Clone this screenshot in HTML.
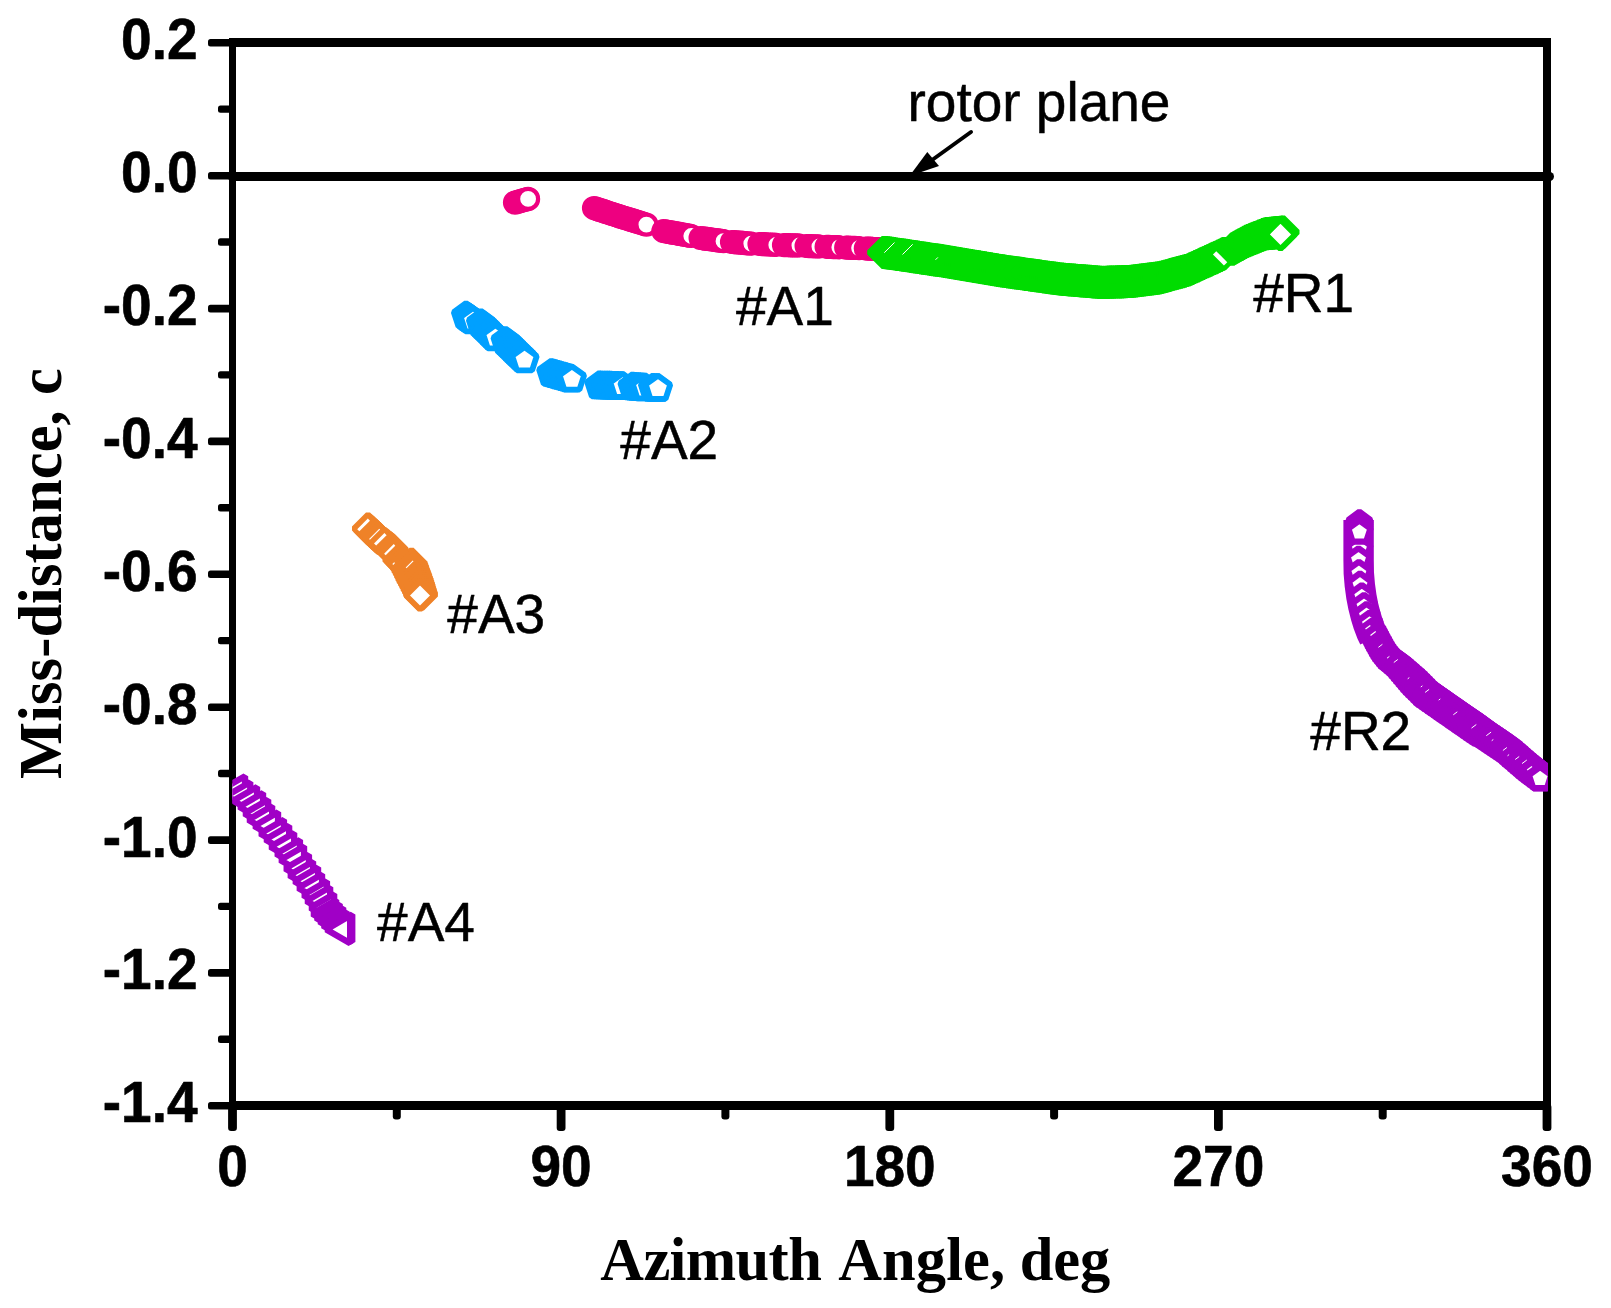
<!DOCTYPE html>
<html lang="en"><head><meta charset="utf-8"><title>Miss-distance vs Azimuth Angle</title>
<style>html,body{margin:0;padding:0;background:#fff;overflow:hidden;}svg{display:block;}.tk{font-family:"Liberation Sans",sans-serif;font-weight:bold;font-size:55px;fill:#000;stroke:#000;stroke-width:0.6px;stroke-linejoin:round;}.an{font-family:"Liberation Sans",sans-serif;font-size:55px;fill:#000;stroke:#000;stroke-width:0.5px;stroke-linejoin:round;}.ax{font-family:"Liberation Serif",serif;font-weight:bold;font-size:60.5px;fill:#000;}</style></head><body>
<svg width="1611" height="1308" viewBox="0 0 1611 1308">
<rect x="0" y="0" width="1611" height="1308" fill="#fff"/>
<g id="frame" fill="#000" shape-rendering="crispEdges">
<rect x="229" y="38" width="7" height="1072"/>
<rect x="1543" y="38" width="8" height="1072"/>
<rect x="231" y="38" width="1320" height="9"/>
<rect x="229" y="1101" width="1322" height="9"/>
</g>
<g id="ticks" fill="#000">
<rect x="208" y="39.0" width="24" height="7.6" rx="2.5"/>
<rect x="218" y="105.4" width="14" height="7.4" rx="2.5"/>
<rect x="208" y="171.9" width="24" height="7.6" rx="2.5"/>
<rect x="218" y="238.3" width="14" height="7.4" rx="2.5"/>
<rect x="208" y="304.8" width="24" height="7.6" rx="2.5"/>
<rect x="218" y="371.2" width="14" height="7.4" rx="2.5"/>
<rect x="208" y="437.6" width="24" height="7.6" rx="2.5"/>
<rect x="218" y="504.1" width="14" height="7.4" rx="2.5"/>
<rect x="208" y="570.5" width="24" height="7.6" rx="2.5"/>
<rect x="218" y="636.9" width="14" height="7.4" rx="2.5"/>
<rect x="208" y="703.4" width="24" height="7.6" rx="2.5"/>
<rect x="218" y="769.8" width="14" height="7.4" rx="2.5"/>
<rect x="208" y="836.3" width="24" height="7.6" rx="2.5"/>
<rect x="218" y="902.7" width="14" height="7.4" rx="2.5"/>
<rect x="208" y="969.1" width="24" height="7.6" rx="2.5"/>
<rect x="218" y="1035.6" width="14" height="7.4" rx="2.5"/>
<rect x="208" y="1102.0" width="24" height="7.6" rx="2.5"/>
<rect x="228.1" y="1104" width="8.8" height="27" rx="3"/>
<rect x="392.8" y="1104" width="8" height="15.5" rx="3"/>
<rect x="556.7" y="1104" width="8.8" height="27" rx="3"/>
<rect x="721.4" y="1104" width="8" height="15.5" rx="3"/>
<rect x="885.4" y="1104" width="8.8" height="27" rx="3"/>
<rect x="1050.1" y="1104" width="8" height="15.5" rx="3"/>
<rect x="1214.0" y="1104" width="8.8" height="27" rx="3"/>
<rect x="1378.7" y="1104" width="8" height="15.5" rx="3"/>
<rect x="1542.6" y="1104" width="8.8" height="27" rx="3"/>
</g>
<g id="ylabels" class="tk" text-anchor="end">
<text transform="translate(197.5 59.2) scale(1 1.04)">0.2</text>
<text transform="translate(197.5 192.1) scale(1 1.04)">0.0</text>
<text transform="translate(197.5 324.9) scale(1 1.04)">-0.2</text>
<text transform="translate(197.5 457.8) scale(1 1.04)">-0.4</text>
<text transform="translate(197.5 590.7) scale(1 1.04)">-0.6</text>
<text transform="translate(197.5 723.6) scale(1 1.04)">-0.8</text>
<text transform="translate(197.5 856.5) scale(1 1.04)">-1.0</text>
<text transform="translate(197.5 989.3) scale(1 1.04)">-1.2</text>
<text transform="translate(197.5 1122.2) scale(1 1.04)">-1.4</text>
</g>
<g id="xlabels" class="tk" text-anchor="middle">
<text transform="translate(232.5 1185.7) scale(1 1.04)">0</text>
<text transform="translate(561.1 1185.7) scale(1 1.04)">90</text>
<text transform="translate(889.8 1185.7) scale(1 1.04)">180</text>
<text transform="translate(1218.4 1185.7) scale(1 1.04)">270</text>
<text transform="translate(1547.0 1185.7) scale(1 1.04)">360</text>
</g>
<g id="titles" class="ax">
<text x="600.3" y="1280.2" textLength="221.5" lengthAdjust="spacing">Azimuth</text>
<text x="838.2" y="1280.2" textLength="167" lengthAdjust="spacing">Angle,</text>
<text x="1019.8" y="1280.2" textLength="90.4" lengthAdjust="spacing">deg</text>
<text transform="translate(61 779) rotate(-90)" textLength="410.8" lengthAdjust="spacing">Miss-distance, c</text>
</g>
<line x1="232" y1="176.5" x2="1549.5" y2="176.5" stroke="#000" stroke-width="9" stroke-linecap="round"/>
<g id="annot" class="an">
<text x="907.5" y="120.7">rotor plane</text>
<text x="736" y="324.8">#A1</text>
<text x="620.3" y="458.9">#A2</text>
<text x="447.3" y="632.7">#A3</text>
<text x="377.1" y="940.8">#A4</text>
<text x="1253.2" y="311.7">#R1</text>
<text x="1310.3" y="749.8">#R2</text>
</g>
<g id="arrow" fill="#000" stroke="#000">
<line x1="971" y1="132" x2="930" y2="161.5" stroke-width="4" stroke-linecap="round"/>
<polygon points="909.5,176 927.3,152 939,166" stroke="none"/>
</g>
<defs>
<circle id="mc" r="10" fill="#fff" stroke="#ee0080" stroke-width="4.2"/>
<polygon id="md" points="0.00,-14.60 14.60,0.00 0.00,14.60 -14.60,0.00" fill="#fff" stroke="#00dc00" stroke-width="5.7" stroke-linejoin="bevel"/>
<polygon id="mo" points="0.00,-14.00 14.00,0.00 0.00,14.00 -14.00,0.00" fill="#fff" stroke="#ef8228" stroke-width="5.7" stroke-linejoin="bevel"/>
<polygon id="mb" points="0.00,-12.90 12.27,-3.99 7.58,10.44 -7.58,10.44 -12.27,-3.99" fill="#fff" stroke="#00a0ff" stroke-width="5.8" stroke-linejoin="bevel"/>
<polygon id="mp" points="0.00,-11.65 11.08,-3.60 6.85,9.43 -6.85,9.43 -11.08,-3.60" fill="#fff" stroke="#a000c6" stroke-width="6.2" stroke-linejoin="bevel"/>
<polygon id="mds" points="0.00,-14.60 14.60,0.00 0.00,14.60 -14.60,0.00" fill="#00dc00" stroke="#00dc00" stroke-width="5.7" stroke-linejoin="bevel"/>
<polygon id="mos" points="0.00,-14.00 14.00,0.00 0.00,14.00 -14.00,0.00" fill="#ef8228" stroke="#ef8228" stroke-width="5.7" stroke-linejoin="bevel"/>
<polygon id="mps" points="0.00,-12.00 11.41,-3.71 7.05,9.71 -7.05,9.71 -11.41,-3.71" fill="#a000c6" stroke="#a000c6" stroke-width="6.8" stroke-linejoin="bevel"/>
<polygon id="mt" points="-15.90,0.00 7.95,-13.77 7.95,13.77" fill="#fff" stroke="#a000c6" stroke-width="6.3" stroke-linejoin="bevel"/>
<clipPath id="clip"><rect x="232.3" y="42.5" width="1315.7" height="1063"/></clipPath>
</defs>
<g id="data" clip-path="url(#clip)">
<g id="sA1"><use href="#mc" x="515.0" y="202.6"/><use href="#mc" x="517.1" y="202.0"/><use href="#mc" x="519.2" y="201.4"/><use href="#mc" x="521.4" y="200.8"/><use href="#mc" x="523.5" y="200.2"/><use href="#mc" x="525.6" y="199.6"/><use href="#mc" x="527.7" y="199.0"/><use href="#mc" x="528.1" y="198.9"/><use href="#mc" x="594.0" y="208.0"/><use href="#mc" x="596.1" y="208.7"/><use href="#mc" x="598.2" y="209.4"/><use href="#mc" x="600.3" y="210.1"/><use href="#mc" x="602.4" y="210.7"/><use href="#mc" x="604.5" y="211.4"/><use href="#mc" x="606.5" y="212.1"/><use href="#mc" x="608.6" y="212.8"/><use href="#mc" x="610.7" y="213.5"/><use href="#mc" x="612.8" y="214.2"/><use href="#mc" x="614.9" y="214.8"/><use href="#mc" x="617.0" y="215.5"/><use href="#mc" x="619.1" y="216.2"/><use href="#mc" x="621.2" y="216.9"/><use href="#mc" x="623.3" y="217.5"/><use href="#mc" x="625.4" y="218.2"/><use href="#mc" x="627.5" y="218.8"/><use href="#mc" x="629.6" y="219.4"/><use href="#mc" x="631.7" y="220.1"/><use href="#mc" x="633.8" y="220.7"/><use href="#mc" x="635.9" y="221.4"/><use href="#mc" x="638.0" y="222.0"/><use href="#mc" x="640.1" y="222.7"/><use href="#mc" x="642.2" y="223.3"/><use href="#mc" x="644.3" y="224.0"/><use href="#mc" x="646.4" y="224.6"/><use href="#mc" x="663.4" y="231.0"/><use href="#mc" x="665.6" y="231.4"/><use href="#mc" x="667.7" y="231.8"/><use href="#mc" x="669.9" y="232.2"/><use href="#mc" x="672.1" y="232.6"/><use href="#mc" x="674.2" y="232.9"/><use href="#mc" x="676.4" y="233.3"/><use href="#mc" x="678.6" y="233.7"/><use href="#mc" x="680.7" y="234.1"/><use href="#mc" x="682.9" y="234.5"/><use href="#mc" x="685.1" y="234.9"/><use href="#mc" x="687.2" y="235.3"/><use href="#mc" x="689.4" y="235.7"/><use href="#mc" x="691.3" y="236.0"/><use href="#mc" x="700.6" y="238.0"/><use href="#mc" x="702.8" y="238.3"/><use href="#mc" x="705.0" y="238.6"/><use href="#mc" x="707.1" y="238.9"/><use href="#mc" x="709.3" y="239.2"/><use href="#mc" x="711.5" y="239.5"/><use href="#mc" x="713.7" y="239.8"/><use href="#mc" x="715.9" y="240.1"/><use href="#mc" x="718.0" y="240.4"/><use href="#mc" x="720.2" y="240.7"/><use href="#mc" x="722.4" y="241.0"/><use href="#mc" x="723.5" y="241.2"/><use href="#mc" x="732.0" y="242.0"/><use href="#mc" x="734.2" y="242.2"/><use href="#mc" x="736.4" y="242.4"/><use href="#mc" x="738.6" y="242.5"/><use href="#mc" x="740.8" y="242.7"/><use href="#mc" x="743.0" y="242.9"/><use href="#mc" x="745.2" y="243.1"/><use href="#mc" x="747.3" y="243.3"/><use href="#mc" x="749.5" y="243.5"/><use href="#mc" x="751.3" y="243.6"/><use href="#mc" x="759.5" y="244.0"/><use href="#mc" x="761.7" y="244.1"/><use href="#mc" x="763.9" y="244.2"/><use href="#mc" x="766.1" y="244.4"/><use href="#mc" x="768.3" y="244.5"/><use href="#mc" x="770.5" y="244.6"/><use href="#mc" x="772.7" y="244.7"/><use href="#mc" x="774.9" y="244.8"/><use href="#mc" x="776.3" y="244.9"/><use href="#mc" x="784.0" y="245.1"/><use href="#mc" x="786.2" y="245.2"/><use href="#mc" x="788.4" y="245.2"/><use href="#mc" x="790.6" y="245.3"/><use href="#mc" x="792.8" y="245.3"/><use href="#mc" x="795.0" y="245.4"/><use href="#mc" x="797.2" y="245.4"/><use href="#mc" x="799.4" y="245.5"/><use href="#mc" x="806.6" y="246.0"/><use href="#mc" x="808.8" y="246.1"/><use href="#mc" x="811.0" y="246.2"/><use href="#mc" x="813.2" y="246.3"/><use href="#mc" x="815.4" y="246.3"/><use href="#mc" x="817.6" y="246.4"/><use href="#mc" x="819.4" y="246.5"/><use href="#mc" x="826.6" y="246.8"/><use href="#mc" x="828.8" y="246.9"/><use href="#mc" x="831.0" y="247.0"/><use href="#mc" x="833.2" y="247.1"/><use href="#mc" x="835.4" y="247.1"/><use href="#mc" x="837.6" y="247.2"/><use href="#mc" x="839.3" y="247.3"/><use href="#mc" x="846.2" y="247.6"/><use href="#mc" x="848.4" y="247.7"/><use href="#mc" x="850.6" y="247.8"/><use href="#mc" x="852.8" y="247.9"/><use href="#mc" x="855.0" y="247.9"/><use href="#mc" x="857.2" y="248.0"/><use href="#mc" x="859.1" y="248.1"/><use href="#mc" x="865.8" y="248.5"/><use href="#mc" x="868.0" y="248.6"/><use href="#mc" x="870.2" y="248.7"/><use href="#mc" x="872.4" y="248.9"/><use href="#mc" x="874.6" y="249.0"/><use href="#mc" x="876.8" y="249.1"/><use href="#mc" x="879.0" y="249.2"/><use href="#mc" x="881.2" y="249.3"/><use href="#mc" x="883.4" y="249.5"/><use href="#mc" x="884.0" y="249.5"/></g>
<g id="sR1"><use href="#mds" x="883.8" y="252.5"/><use href="#mds" x="885.8" y="252.7"/><use href="#mds" x="887.8" y="252.8"/><use href="#mds" x="889.8" y="253.1"/><use href="#mds" x="891.7" y="253.4"/><use href="#mds" x="893.7" y="253.7"/><use href="#mds" x="895.7" y="254.0"/><use href="#mds" x="897.7" y="254.3"/><use href="#mds" x="899.7" y="254.5"/><use href="#mds" x="901.6" y="254.8"/><use href="#mds" x="903.6" y="255.1"/><use href="#mds" x="905.6" y="255.4"/><use href="#mds" x="907.6" y="255.7"/><use href="#mds" x="909.6" y="256.0"/><use href="#mds" x="911.5" y="256.3"/><use href="#mds" x="913.5" y="256.6"/><use href="#mds" x="915.5" y="256.9"/><use href="#mds" x="917.5" y="257.2"/><use href="#mds" x="919.4" y="257.5"/><use href="#mds" x="921.4" y="257.8"/><use href="#mds" x="923.4" y="258.1"/><use href="#mds" x="925.4" y="258.4"/><use href="#mds" x="927.4" y="258.7"/><use href="#mds" x="929.3" y="259.0"/><use href="#mds" x="931.3" y="259.3"/><use href="#mds" x="933.3" y="259.6"/><use href="#mds" x="935.3" y="259.8"/><use href="#mds" x="937.2" y="260.1"/><use href="#mds" x="939.2" y="260.4"/><use href="#mds" x="941.2" y="260.7"/><use href="#mds" x="943.2" y="261.0"/><use href="#mds" x="945.2" y="261.3"/><use href="#mds" x="947.1" y="261.6"/><use href="#mds" x="949.1" y="262.0"/><use href="#mds" x="951.1" y="262.3"/><use href="#mds" x="953.1" y="262.6"/><use href="#mds" x="955.0" y="263.0"/><use href="#mds" x="957.0" y="263.3"/><use href="#mds" x="959.0" y="263.6"/><use href="#mds" x="960.9" y="264.0"/><use href="#mds" x="962.9" y="264.3"/><use href="#mds" x="964.9" y="264.6"/><use href="#mds" x="966.9" y="265.0"/><use href="#mds" x="968.8" y="265.3"/><use href="#mds" x="970.8" y="265.6"/><use href="#mds" x="972.8" y="266.0"/><use href="#mds" x="974.7" y="266.3"/><use href="#mds" x="976.7" y="266.6"/><use href="#mds" x="978.7" y="266.9"/><use href="#mds" x="980.7" y="267.3"/><use href="#mds" x="982.6" y="267.6"/><use href="#mds" x="984.6" y="267.9"/><use href="#mds" x="986.6" y="268.3"/><use href="#mds" x="988.6" y="268.6"/><use href="#mds" x="990.5" y="268.9"/><use href="#mds" x="992.5" y="269.3"/><use href="#mds" x="994.5" y="269.6"/><use href="#mds" x="996.4" y="269.9"/><use href="#mds" x="998.4" y="270.3"/><use href="#mds" x="1000.4" y="270.6"/><use href="#mds" x="1002.4" y="270.9"/><use href="#mds" x="1004.3" y="271.2"/><use href="#mds" x="1006.3" y="271.5"/><use href="#mds" x="1008.3" y="271.8"/><use href="#mds" x="1010.3" y="272.0"/><use href="#mds" x="1012.3" y="272.3"/><use href="#mds" x="1014.2" y="272.6"/><use href="#mds" x="1016.2" y="272.9"/><use href="#mds" x="1018.2" y="273.2"/><use href="#mds" x="1020.2" y="273.4"/><use href="#mds" x="1022.2" y="273.7"/><use href="#mds" x="1024.1" y="274.0"/><use href="#mds" x="1026.1" y="274.3"/><use href="#mds" x="1028.1" y="274.5"/><use href="#mds" x="1030.1" y="274.8"/><use href="#mds" x="1032.1" y="275.1"/><use href="#mds" x="1034.0" y="275.4"/><use href="#mds" x="1036.0" y="275.7"/><use href="#mds" x="1038.0" y="275.9"/><use href="#mds" x="1040.0" y="276.2"/><use href="#mds" x="1042.0" y="276.5"/><use href="#mds" x="1044.0" y="276.8"/><use href="#mds" x="1045.9" y="277.0"/><use href="#mds" x="1047.9" y="277.3"/><use href="#mds" x="1049.9" y="277.6"/><use href="#mds" x="1051.9" y="277.9"/><use href="#mds" x="1053.9" y="278.2"/><use href="#mds" x="1055.8" y="278.4"/><use href="#mds" x="1057.8" y="278.7"/><use href="#mds" x="1059.8" y="279.0"/><use href="#mds" x="1061.8" y="279.2"/><use href="#mds" x="1063.8" y="279.3"/><use href="#mds" x="1065.8" y="279.5"/><use href="#mds" x="1067.8" y="279.6"/><use href="#mds" x="1069.8" y="279.8"/><use href="#mds" x="1071.8" y="280.0"/><use href="#mds" x="1073.7" y="280.1"/><use href="#mds" x="1075.7" y="280.3"/><use href="#mds" x="1077.7" y="280.5"/><use href="#mds" x="1079.7" y="280.6"/><use href="#mds" x="1081.7" y="280.8"/><use href="#mds" x="1083.7" y="280.9"/><use href="#mds" x="1085.7" y="281.1"/><use href="#mds" x="1087.7" y="281.3"/><use href="#mds" x="1089.7" y="281.4"/><use href="#mds" x="1091.7" y="281.6"/><use href="#mds" x="1093.7" y="281.8"/><use href="#mds" x="1095.7" y="281.9"/><use href="#mds" x="1097.7" y="282.1"/><use href="#mds" x="1099.7" y="282.3"/><use href="#mds" x="1101.7" y="282.4"/><use href="#mds" x="1103.7" y="282.5"/><use href="#mds" x="1105.7" y="282.4"/><use href="#mds" x="1107.6" y="282.3"/><use href="#mds" x="1109.6" y="282.2"/><use href="#mds" x="1111.6" y="282.2"/><use href="#mds" x="1113.6" y="282.1"/><use href="#mds" x="1115.6" y="282.0"/><use href="#mds" x="1117.6" y="281.9"/><use href="#mds" x="1119.6" y="281.8"/><use href="#mds" x="1121.6" y="281.8"/><use href="#mds" x="1123.6" y="281.7"/><use href="#mds" x="1125.6" y="281.6"/><use href="#mds" x="1127.6" y="281.5"/><use href="#mds" x="1129.6" y="281.5"/><use href="#mds" x="1131.6" y="281.4"/><use href="#mds" x="1133.6" y="281.1"/><use href="#mds" x="1135.6" y="280.9"/><use href="#mds" x="1137.6" y="280.6"/><use href="#mds" x="1139.6" y="280.4"/><use href="#mds" x="1141.5" y="280.1"/><use href="#mds" x="1143.5" y="279.9"/><use href="#mds" x="1145.5" y="279.6"/><use href="#mds" x="1147.5" y="279.4"/><use href="#mds" x="1149.5" y="279.1"/><use href="#mds" x="1151.5" y="278.9"/><use href="#mds" x="1153.5" y="278.6"/><use href="#mds" x="1155.4" y="278.4"/><use href="#mds" x="1157.4" y="278.1"/><use href="#mds" x="1159.4" y="277.8"/><use href="#mds" x="1161.3" y="277.4"/><use href="#mds" x="1163.3" y="276.9"/><use href="#mds" x="1165.2" y="276.3"/><use href="#mds" x="1167.1" y="275.8"/><use href="#mds" x="1169.1" y="275.3"/><use href="#mds" x="1171.0" y="274.7"/><use href="#mds" x="1172.9" y="274.2"/><use href="#mds" x="1174.9" y="273.7"/><use href="#mds" x="1176.8" y="273.2"/><use href="#mds" x="1178.7" y="272.6"/><use href="#mds" x="1180.6" y="272.1"/><use href="#mds" x="1182.6" y="271.6"/><use href="#mds" x="1184.5" y="271.1"/><use href="#mds" x="1186.4" y="270.5"/><use href="#mds" x="1188.4" y="270.0"/><use href="#mds" x="1190.2" y="269.2"/><use href="#mds" x="1192.0" y="268.4"/><use href="#mds" x="1193.8" y="267.5"/><use href="#mds" x="1195.6" y="266.7"/><use href="#mds" x="1197.5" y="265.9"/><use href="#mds" x="1199.3" y="265.0"/><use href="#mds" x="1201.1" y="264.2"/><use href="#mds" x="1202.9" y="263.4"/><use href="#mds" x="1204.7" y="262.5"/><use href="#mds" x="1206.6" y="261.7"/><use href="#mds" x="1208.4" y="260.9"/><use href="#mds" x="1210.2" y="260.1"/><use href="#mds" x="1212.0" y="259.2"/><use href="#mds" x="1213.8" y="258.4"/><use href="#mds" x="1215.7" y="257.6"/><use href="#mds" x="1216.9" y="257.0"/><use href="#mds" x="1218.7" y="256.1"/><use href="#mds" x="1220.5" y="255.3"/><use href="#mds" x="1222.3" y="254.4"/><use href="#mds" x="1223.9" y="253.6"/><use href="#mds" x="1232.5" y="249.2"/><use href="#mds" x="1234.2" y="248.2"/><use href="#mds" x="1236.0" y="247.2"/><use href="#mds" x="1237.7" y="246.2"/><use href="#mds" x="1239.5" y="245.2"/><use href="#mds" x="1241.2" y="244.3"/><use href="#mds" x="1242.9" y="243.3"/><use href="#mds" x="1244.7" y="242.3"/><use href="#mds" x="1246.5" y="241.4"/><use href="#mds" x="1248.3" y="240.7"/><use href="#mds" x="1250.2" y="239.9"/><use href="#mds" x="1252.0" y="239.2"/><use href="#mds" x="1253.9" y="238.4"/><use href="#mds" x="1255.8" y="237.7"/><use href="#mds" x="1257.6" y="237.0"/><use href="#mds" x="1259.5" y="236.2"/><use href="#mds" x="1261.3" y="235.5"/><use href="#mds" x="1263.2" y="234.7"/><use href="#mds" x="1265.0" y="234.0"/><use href="#mds" x="1267.0" y="233.7"/><use href="#mds" x="1269.0" y="233.5"/><use href="#mds" x="1271.0" y="233.3"/><use href="#mds" x="1273.0" y="233.1"/><use href="#mds" x="1275.0" y="232.9"/><use href="#mds" x="1276.9" y="232.7"/><use href="#mds" x="1278.9" y="232.5"/><use href="#mds" x="1280.9" y="232.3"/><use href="#mds" x="1282.9" y="232.1"/><use href="#md" x="1280.5" y="234.4"/><g stroke="#fff" fill="none"><line x1="884.3" y1="252.7" x2="894.5" y2="242.5" stroke-width="1.0"/><line x1="902.5" y1="254.5" x2="912.7" y2="244.3" stroke-width="1.0"/><line x1="935.5" y1="259.8" x2="937.9" y2="257.4" stroke-width="1.0"/><line x1="1214.6" y1="252.8" x2="1225.6" y2="263.8" stroke-width="4.7"/></g></g>
<g id="sA2"><use href="#mb" x="466.0" y="316.0"/><use href="#mb" x="467.8" y="317.3"/><use href="#mb" x="469.6" y="318.6"/><use href="#mb" x="471.4" y="319.8"/><use href="#mb" x="473.0" y="321.0"/><use href="#mb" x="481.0" y="323.8"/><use href="#mb" x="482.6" y="325.3"/><use href="#mb" x="484.1" y="326.9"/><use href="#mb" x="485.7" y="328.4"/><use href="#mb" x="487.3" y="330.0"/><use href="#mb" x="488.8" y="331.5"/><use href="#mb" x="490.4" y="333.1"/><use href="#mb" x="492.0" y="334.6"/><use href="#mb" x="493.5" y="336.2"/><use href="#mb" x="495.1" y="337.7"/><use href="#mb" x="495.4" y="338.0"/><use href="#mb" x="505.6" y="341.6"/><use href="#mb" x="507.2" y="343.1"/><use href="#mb" x="508.8" y="344.7"/><use href="#mb" x="510.3" y="346.2"/><use href="#mb" x="511.9" y="347.7"/><use href="#mb" x="513.5" y="349.3"/><use href="#mb" x="515.1" y="350.8"/><use href="#mb" x="516.6" y="352.3"/><use href="#mb" x="518.2" y="353.9"/><use href="#mb" x="519.8" y="355.4"/><use href="#mb" x="521.4" y="356.9"/><use href="#mb" x="522.9" y="358.5"/><use href="#mb" x="524.5" y="360.0"/><use href="#mb" x="551.3" y="373.4"/><use href="#mb" x="553.4" y="374.0"/><use href="#mb" x="555.5" y="374.6"/><use href="#mb" x="557.7" y="375.2"/><use href="#mb" x="559.8" y="375.8"/><use href="#mb" x="561.9" y="376.4"/><use href="#mb" x="564.0" y="377.0"/><use href="#mb" x="566.1" y="377.6"/><use href="#mb" x="568.2" y="378.2"/><use href="#mb" x="570.4" y="378.8"/><use href="#mb" x="571.9" y="379.2"/><use href="#mb" x="599.4" y="385.8"/><use href="#mb" x="601.6" y="385.9"/><use href="#mb" x="603.8" y="385.9"/><use href="#mb" x="606.0" y="386.0"/><use href="#mb" x="608.2" y="386.1"/><use href="#mb" x="610.4" y="386.1"/><use href="#mb" x="612.6" y="386.2"/><use href="#mb" x="614.8" y="386.3"/><use href="#mb" x="617.0" y="386.3"/><use href="#mb" x="619.2" y="386.4"/><use href="#mb" x="621.4" y="386.5"/><use href="#mb" x="622.6" y="386.5"/><use href="#mb" x="632.6" y="387.0"/><use href="#mb" x="634.8" y="387.2"/><use href="#mb" x="637.0" y="387.4"/><use href="#mb" x="639.2" y="387.5"/><use href="#mb" x="641.4" y="387.7"/><use href="#mb" x="643.6" y="387.9"/><use href="#mb" x="645.0" y="388.0"/><use href="#mb" x="653.0" y="388.3"/><use href="#mb" x="655.2" y="388.4"/><use href="#mb" x="657.4" y="388.5"/><use href="#mb" x="658.0" y="388.5"/></g>
<g id="sA3"><use href="#mos" x="368.0" y="528.5"/><use href="#mos" x="369.5" y="529.9"/><use href="#mos" x="370.9" y="531.2"/><use href="#mos" x="372.4" y="532.6"/><use href="#mos" x="373.8" y="534.0"/><use href="#mos" x="375.3" y="535.3"/><use href="#mos" x="376.8" y="536.7"/><use href="#mos" x="378.2" y="538.1"/><use href="#mos" x="379.0" y="538.8"/><use href="#mos" x="384.3" y="543.3"/><use href="#mos" x="385.9" y="544.5"/><use href="#mos" x="387.4" y="545.8"/><use href="#mos" x="389.0" y="547.0"/><use href="#mos" x="390.6" y="548.3"/><use href="#mos" x="392.1" y="549.5"/><use href="#mos" x="392.6" y="549.9"/><use href="#mos" x="398.5" y="559.5"/><use href="#mos" x="411.6" y="563.7"/><use href="#mos" x="400.6" y="561.5"/><use href="#mos" x="412.3" y="565.8"/><use href="#mos" x="402.6" y="563.6"/><use href="#mos" x="413.1" y="567.8"/><use href="#mos" x="404.7" y="565.6"/><use href="#mos" x="413.8" y="569.9"/><use href="#mos" x="406.4" y="567.9"/><use href="#mos" x="414.6" y="572.0"/><use href="#mos" x="407.6" y="570.5"/><use href="#mos" x="415.3" y="574.0"/><use href="#mos" x="408.9" y="573.1"/><use href="#mos" x="416.1" y="576.1"/><use href="#mos" x="410.2" y="575.8"/><use href="#mos" x="416.8" y="578.2"/><use href="#mos" x="411.5" y="578.4"/><use href="#mos" x="417.6" y="580.3"/><use href="#mos" x="412.7" y="581.0"/><use href="#mos" x="418.2" y="582.4"/><use href="#mos" x="414.1" y="583.5"/><use href="#mos" x="418.9" y="584.5"/><use href="#mos" x="415.4" y="586.1"/><use href="#mos" x="419.5" y="586.6"/><use href="#mos" x="416.7" y="588.7"/><use href="#mos" x="420.1" y="588.7"/><use href="#mos" x="418.0" y="591.3"/><use href="#mos" x="420.8" y="590.8"/><use href="#mos" x="419.3" y="593.9"/><use href="#mos" x="421.4" y="592.9"/><use href="#mos" x="419.6" y="594.4"/><use href="#mos" x="421.9" y="594.4"/><use href="#mo" x="420.0" y="595.5"/><g stroke="#fff" fill="none"><line x1="358.3" y1="530.2" x2="368.9" y2="519.6" stroke-width="3.0"/><line x1="369.5" y1="539.4" x2="379.7" y2="529.2" stroke-width="1.2"/><line x1="375.1" y1="544.5" x2="385.5" y2="534.1" stroke-width="3.1"/><line x1="384.9" y1="554.5" x2="394.5" y2="544.9" stroke-width="2.2"/><line x1="392.8" y1="564.5" x2="394.6" y2="562.7" stroke-width="1.2"/><line x1="406.1" y1="567.9" x2="413.1" y2="560.9" stroke-width="1.2"/></g></g>
<g id="sA4"><use href="#mt" x="237.1" y="789.9"/><use href="#mt" x="242.3" y="795.9"/><use href="#mt" x="249.1" y="800.7"/><use href="#mt" x="255.1" y="806.7"/><use href="#mt" x="260.2" y="813.5"/><use href="#mt" x="264.2" y="819.8"/><use href="#mt" x="270.1" y="826.0"/><use href="#mt" x="276.0" y="833.6"/><use href="#mt" x="281.2" y="839.6"/><use href="#mt" x="286.2" y="846.8"/><use href="#mt" x="292.0" y="853.7"/><use href="#mt" x="296.1" y="860.1"/><use href="#mt" x="301.0" y="868.4"/><use href="#mt" x="305.1" y="875.3"/><use href="#mt" x="310.1" y="881.3"/><use href="#mt" x="314.1" y="888.1"/><use href="#mt" x="319.0" y="894.9"/><use href="#mt" x="322.2" y="900.9"/><use href="#mt" x="326.2" y="907.8"/><use href="#mt" x="328.2" y="913.8"/><use href="#mt" x="331.7" y="917.7"/><use href="#mt" x="335.2" y="921.6"/><use href="#mt" x="338.7" y="925.5"/><use href="#mt" x="344.3" y="928.2"/><use href="#mt" x="342.2" y="929.4"/></g>
<g id="sR2"><path d="M1358.6 520 L1358.6 560 L1358.8 573 L1359.8 585 L1361.4 596.6 L1363.3 606.4 L1365.6 615.5 L1368.2 624.1 L1371.5 632.7 L1374 638" fill="none" stroke="#a000c6" stroke-width="30.4" stroke-linejoin="round"/><use href="#mp" x="1359.4" y="549.0"/><use href="#mp" x="1359.4" y="523.5"/><use href="#mp" x="1359.4" y="525.5"/><use href="#mp" x="1359.4" y="527.5"/><use href="#mp" x="1359.4" y="529.5"/><use href="#mp" x="1359.4" y="531.5"/><use href="#mp" x="1359.4" y="532.1"/><use href="#mp" x="1358.5" y="559.9"/><use href="#mp" x="1358.9" y="573.3"/><use href="#mp" x="1360.0" y="585.0"/><use href="#mp" x="1361.8" y="596.6"/><use href="#mp" x="1364.0" y="606.4"/><use href="#mp" x="1366.5" y="615.5"/><use href="#mp" x="1369.5" y="624.1"/><use href="#mps" x="1372.6" y="632.4"/><use href="#mps" x="1374.0" y="635.1"/><use href="#mps" x="1375.3" y="637.7"/><use href="#mps" x="1376.7" y="640.4"/><use href="#mps" x="1378.2" y="643.0"/><use href="#mps" x="1379.6" y="645.7"/><use href="#mps" x="1381.1" y="648.3"/><use href="#mps" x="1382.7" y="650.8"/><use href="#mps" x="1384.6" y="653.1"/><use href="#mps" x="1386.5" y="655.4"/><use href="#mps" x="1388.4" y="657.7"/><use href="#mps" x="1391.5" y="660.0"/><use href="#mps" x="1391.5" y="660.0"/><use href="#mps" x="1394.6" y="662.0"/><use href="#mps" x="1394.2" y="662.4"/><use href="#mps" x="1397.6" y="663.9"/><use href="#mps" x="1396.9" y="664.8"/><use href="#mps" x="1400.4" y="666.3"/><use href="#mps" x="1399.2" y="667.5"/><use href="#mps" x="1403.2" y="668.6"/><use href="#mps" x="1401.5" y="670.2"/><use href="#mps" x="1405.9" y="671.0"/><use href="#mps" x="1403.8" y="673.0"/><use href="#mps" x="1408.6" y="673.4"/><use href="#mps" x="1406.2" y="675.8"/><use href="#mps" x="1411.4" y="675.7"/><use href="#mps" x="1408.5" y="678.6"/><use href="#mps" x="1414.1" y="678.1"/><use href="#mps" x="1410.8" y="681.3"/><use href="#mps" x="1416.6" y="680.7"/><use href="#mps" x="1413.3" y="683.9"/><use href="#mps" x="1419.1" y="683.2"/><use href="#mps" x="1415.8" y="686.5"/><use href="#mps" x="1421.6" y="685.8"/><use href="#mps" x="1418.4" y="689.0"/><use href="#mps" x="1424.2" y="688.4"/><use href="#mps" x="1420.9" y="691.6"/><use href="#mps" x="1426.5" y="690.8"/><use href="#mps" x="1423.6" y="694.3"/><use href="#mps" x="1429.3" y="692.7"/><use href="#mps" x="1426.7" y="696.5"/><use href="#mps" x="1432.3" y="694.8"/><use href="#mps" x="1429.6" y="698.6"/><use href="#mps" x="1435.2" y="696.8"/><use href="#mps" x="1432.6" y="700.6"/><use href="#mps" x="1438.2" y="698.9"/><use href="#mps" x="1435.5" y="702.7"/><use href="#mps" x="1441.1" y="701.0"/><use href="#mps" x="1438.5" y="704.7"/><use href="#mps" x="1444.1" y="703.0"/><use href="#mps" x="1441.4" y="706.8"/><use href="#mps" x="1447.0" y="705.1"/><use href="#mps" x="1444.4" y="708.9"/><use href="#mps" x="1450.0" y="707.2"/><use href="#mps" x="1447.3" y="710.9"/><use href="#mps" x="1452.9" y="709.2"/><use href="#mps" x="1450.3" y="713.0"/><use href="#mps" x="1455.9" y="711.3"/><use href="#mps" x="1453.3" y="715.1"/><use href="#mps" x="1458.8" y="713.3"/><use href="#mps" x="1456.2" y="717.1"/><use href="#mps" x="1461.8" y="715.4"/><use href="#mps" x="1459.2" y="719.1"/><use href="#mps" x="1464.8" y="717.4"/><use href="#mps" x="1462.1" y="721.2"/><use href="#mps" x="1467.7" y="719.5"/><use href="#mps" x="1465.1" y="723.2"/><use href="#mps" x="1470.7" y="721.5"/><use href="#mps" x="1468.1" y="725.3"/><use href="#mps" x="1473.6" y="723.5"/><use href="#mps" x="1471.0" y="727.3"/><use href="#mps" x="1476.6" y="725.6"/><use href="#mps" x="1474.0" y="729.4"/><use href="#mps" x="1479.6" y="727.6"/><use href="#mps" x="1477.0" y="731.4"/><use href="#mps" x="1482.5" y="729.7"/><use href="#mps" x="1480.0" y="733.5"/><use href="#mps" x="1485.2" y="732.1"/><use href="#mps" x="1483.3" y="735.0"/><use href="#mps" x="1488.2" y="734.1"/><use href="#mps" x="1486.3" y="737.0"/><use href="#mps" x="1491.2" y="736.1"/><use href="#mps" x="1489.3" y="739.0"/><use href="#mps" x="1494.2" y="738.1"/><use href="#mps" x="1492.2" y="741.0"/><use href="#mps" x="1497.2" y="740.1"/><use href="#mps" x="1495.2" y="743.0"/><use href="#mps" x="1500.1" y="742.1"/><use href="#mps" x="1498.2" y="745.0"/><use href="#mps" x="1503.1" y="744.1"/><use href="#mps" x="1501.2" y="747.0"/><use href="#mps" x="1506.2" y="746.2"/><use href="#mps" x="1504.2" y="749.0"/><use href="#mps" x="1509.2" y="748.3"/><use href="#mps" x="1507.1" y="751.0"/><use href="#mps" x="1512.0" y="750.7"/><use href="#mps" x="1509.7" y="753.3"/><use href="#mps" x="1514.7" y="753.0"/><use href="#mps" x="1512.4" y="755.7"/><use href="#mps" x="1517.4" y="755.4"/><use href="#mps" x="1515.2" y="758.0"/><use href="#mps" x="1520.1" y="757.8"/><use href="#mps" x="1517.9" y="760.4"/><use href="#mps" x="1522.9" y="760.1"/><use href="#mps" x="1520.6" y="762.7"/><use href="#mps" x="1525.6" y="762.5"/><use href="#mps" x="1523.3" y="765.1"/><use href="#mps" x="1528.3" y="764.8"/><use href="#mps" x="1526.1" y="767.5"/><use href="#mps" x="1531.1" y="767.0"/><use href="#mps" x="1528.9" y="769.7"/><use href="#mps" x="1533.9" y="769.1"/><use href="#mps" x="1531.8" y="771.9"/><use href="#mps" x="1536.8" y="771.3"/><use href="#mps" x="1534.7" y="774.1"/><use href="#mps" x="1539.7" y="773.5"/><use href="#mps" x="1537.6" y="776.2"/><use href="#mps" x="1542.5" y="775.6"/><use href="#mps" x="1540.5" y="778.4"/><use href="#mp" x="1540.1" y="778.7"/><g stroke="#fff" fill="none"><line x1="1365.5" y1="629.1" x2="1370.3" y2="625.5" stroke-width="1.2"/><line x1="1370.5" y1="635.4" x2="1375.7" y2="631.6" stroke-width="1.2"/><line x1="1378.4" y1="647.3" x2="1382.4" y2="644.3" stroke-width="1.0"/><line x1="1387.0" y1="658.2" x2="1389.4" y2="656.4" stroke-width="1"/><line x1="1393.8" y1="662.5" x2="1397.8" y2="659.5" stroke-width="1"/><line x1="1407.7" y1="678.8" x2="1409.3" y2="677.6" stroke-width="1"/><line x1="1420.8" y1="687.0" x2="1422.4" y2="685.8" stroke-width="1"/><line x1="1425.1" y1="692.4" x2="1429.1" y2="689.4" stroke-width="1"/><line x1="1438.7" y1="700.1" x2="1440.3" y2="698.9" stroke-width="1"/><line x1="1453.3" y1="714.8" x2="1457.3" y2="711.8" stroke-width="1"/><line x1="1471.5" y1="728.1" x2="1476.3" y2="724.5" stroke-width="1"/><line x1="1486.3" y1="735.7" x2="1491.1" y2="732.1" stroke-width="1"/><line x1="1491.7" y1="740.7" x2="1493.3" y2="739.5" stroke-width="1"/><line x1="1502.9" y1="750.5" x2="1506.9" y2="747.5" stroke-width="1"/><line x1="1507.5" y1="755.8" x2="1509.1" y2="754.6" stroke-width="1"/><line x1="1515.2" y1="759.5" x2="1519.2" y2="756.5" stroke-width="1"/><line x1="1522.0" y1="763.6" x2="1526.8" y2="760.0" stroke-width="1"/><line x1="1527.2" y1="770.1" x2="1532.0" y2="766.5" stroke-width="1.2"/></g></g>
</g>
</svg></body></html>
